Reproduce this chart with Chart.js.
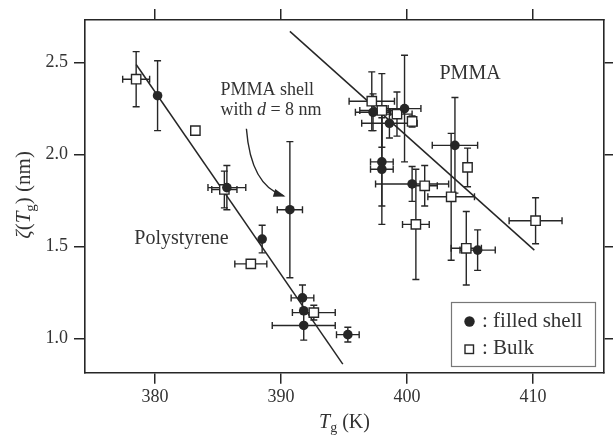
<!DOCTYPE html>
<html>
<head>
<meta charset="utf-8">
<script src="https://cdn.jsdelivr.net/npm/chart.js@4.4.0/dist/chart.umd.min.js"></script>
<style>
html, body { margin: 0; padding: 0; background: #fff; }
#wrap { width: 613px; height: 435px; }
</style>
</head>
<body>
<div id="wrap"><canvas id="chart" width="613" height="435"></canvas></div>
<script>
// tick values
const tickT = [380, 390, 400, 410];
const tickXi = [1.0, 1.5, 2.0, 2.5];

// filled shell (PS + PMMA)
const filledT = [380.2, 385.7, 390.7, 388.5, 391.7, 391.8, 391.8, 395.3,
                 397.3, 398.6, 399.8, 398.0, 398.0, 400.4, 403.8, 405.6];
const filledXi = [2.32, 1.82, 1.70, 1.54, 1.22, 1.15, 1.07, 1.02,
                  2.23, 2.17, 2.25, 1.96, 1.92, 1.84, 2.05, 1.48];
const filledTErr = [0, 1.5, 1.0, 0, 0.9, 0, 2.5, 0.9,
                    1.4, 2.2, 1.3, 0.9, 0.9, 2.9, 1.8, 1.4];
const filledXiErr = [0.19, 0.12, 0.37, 0.075, 0.07, 0, 0.08, 0.04,
                     0.1, 0.08, 0.29, 0.24, 0.30, 0.095, 0.26, 0.11];

// bulk
const bulkT = [378.5, 383.2, 385.5, 387.6, 392.6,
               397.2, 398.0, 399.2, 400.4, 401.4, 400.7, 403.5, 404.8, 404.7, 410.2];
const bulkXi = [2.41, 2.13, 1.81, 1.405, 1.14,
                2.29, 2.24, 2.22, 2.18, 1.83, 1.62, 1.77, 1.93, 1.49, 1.64];
const bulkTErr = [1.07, 0, 1.0, 1.27, 1.7,
                  1.8, 1.75, 1.2, 0, 1.0, 1.06, 1.85, 0, 1.2, 2.1];
const bulkXiErr = [0.15, 0.02, 0.1, 0, 0.04,
                   0.16, 0.2, 0.12, 0.03, 0.11, 0.3, 0.345, 0.105, 0.2, 0.125];

// fitted lines
const psFitT = [378.5, 394.9];
const psFitXi = [2.49, 0.86];
const pmmaFitT = [390.7, 410.1];
const pmmaFitXi = [2.67, 1.48];

const SERIF = "'Liberation Serif', 'DejaVu Serif', serif";
const INK = '#262626';
const TXT = '#333';

function toPoints(xs, ys) {
    return xs.map((x, i) => ({ x: x, y: ys[i] }));
}

// error bars, drawn under the markers
const errorBars = {
    id: 'errorBars',
    beforeDatasetsDraw(chart) {
        const { ctx, scales: { x, y } } = chart;
        ctx.save();
        ctx.strokeStyle = INK;
        ctx.lineWidth = 1.4;
        const cap = 3.5;
        chart.data.datasets.forEach(ds => {
            if (!ds.errT) return;
            ds.data.forEach((p, i) => {
                const px = x.getPixelForValue(p.x);
                const py = y.getPixelForValue(p.y);
                const dx = ds.errT[i], dy = ds.errXi[i];
                ctx.beginPath();
                if (dy > 0) {
                    const y1 = y.getPixelForValue(p.y + dy);
                    const y2 = y.getPixelForValue(p.y - dy);
                    ctx.moveTo(px, y1); ctx.lineTo(px, y2);
                    ctx.moveTo(px - cap, y1); ctx.lineTo(px + cap, y1);
                    ctx.moveTo(px - cap, y2); ctx.lineTo(px + cap, y2);
                }
                if (dx > 0) {
                    const x1 = x.getPixelForValue(p.x - dx);
                    const x2 = x.getPixelForValue(p.x + dx);
                    ctx.moveTo(x1, py); ctx.lineTo(x2, py);
                    ctx.moveTo(x1, py - cap); ctx.lineTo(x1, py + cap);
                    ctx.moveTo(x2, py - cap); ctx.lineTo(x2, py + cap);
                }
                ctx.stroke();
            });
        });
        ctx.restore();
    }
};

// draws a run of [text, italic, sub] pieces starting at x
function drawRuns(ctx, runs, x, y, size) {
    runs.forEach(r => {
        const fs = r[2] ? Math.round(size * 0.7) : size;
        ctx.font = (r[1] ? 'italic ' : '') + fs + 'px ' + SERIF;
        ctx.fillText(r[0], x, r[2] ? y + size * 0.22 : y);
        x += ctx.measureText(r[0]).width;
    });
    return x;
}
function runsWidth(ctx, runs, size) {
    let w = 0;
    runs.forEach(r => {
        const fs = r[2] ? Math.round(size * 0.7) : size;
        ctx.font = (r[1] ? 'italic ' : '') + fs + 'px ' + SERIF;
        w += ctx.measureText(r[0]).width;
    });
    return w;
}

const notes = {
    id: 'notes',
    afterDatasetsDraw(chart) {
        const { ctx, scales: { x, y } } = chart;
        ctx.save();
        ctx.fillStyle = TXT;
        ctx.textBaseline = 'middle';

        const label = (runs, vx, vy, size) => {
            const w = runsWidth(ctx, runs, size);
            drawRuns(ctx, runs, x.getPixelForValue(vx) - w / 2, y.getPixelForValue(vy), size);
        };
        label([['PMMA shell']], 388.9, 2.35, 18);
        label([['with '], ['d', true], [' = 8 nm']], 389.2, 2.24, 18);
        label([['Polystyrene']], 382.1, 1.54, 20);
        label([['PMMA']], 405.0, 2.44, 20);

        // curved arrow towards the PMMA shell point
        const sx = x.getPixelForValue(387.25), sy = y.getPixelForValue(2.14);
        const cx = x.getPixelForValue(387.6), cy = y.getPixelForValue(1.83);
        const ex = x.getPixelForValue(390.2), ey = y.getPixelForValue(1.775);
        ctx.strokeStyle = INK;
        ctx.lineWidth = 1.4;
        ctx.beginPath();
        ctx.moveTo(sx, sy);
        ctx.quadraticCurveTo(cx, cy, ex, ey);
        ctx.stroke();
        const ang = Math.atan2(ey - cy, ex - cx);
        const L = 10, W = 4;
        ctx.fillStyle = INK;
        ctx.beginPath();
        ctx.moveTo(ex + Math.cos(ang) * 2, ey + Math.sin(ang) * 2);
        ctx.lineTo(ex - Math.cos(ang) * L - Math.sin(ang) * W, ey - Math.sin(ang) * L + Math.cos(ang) * W);
        ctx.lineTo(ex - Math.cos(ang) * L + Math.sin(ang) * W, ey - Math.sin(ang) * L - Math.cos(ang) * W);
        ctx.closePath();
        ctx.fill();
        ctx.restore();
    },
    afterDraw(chart) {
        const { ctx, chartArea } = chart;
        ctx.save();
        ctx.fillStyle = TXT;
        ctx.textBaseline = 'alphabetic';

        // legend box
        const bx = 451.5, by = 302.5, bw = 144, bh = 64;
        ctx.fillStyle = '#fff';
        ctx.fillRect(bx, by, bw, bh);
        ctx.strokeStyle = '#777';
        ctx.lineWidth = 1.2;
        ctx.strokeRect(bx, by, bw, bh);
        ctx.fillStyle = INK;
        ctx.beginPath();
        ctx.arc(469.5, 321.5, 5.2, 0, Math.PI * 2);
        ctx.fill();
        ctx.strokeStyle = INK;
        ctx.lineWidth = 1.4;
        ctx.fillStyle = '#fff';
        ctx.fillRect(465, 345, 8.5, 8.5);
        ctx.strokeRect(465, 345, 8.5, 8.5);
        ctx.fillStyle = TXT;
        ctx.textBaseline = 'middle';
        drawRuns(ctx, [[': filled shell']], 482, 321, 21);
        drawRuns(ctx, [[': Bulk']], 482, 348, 21);

        // x axis title
        ctx.textBaseline = 'alphabetic';
        const xr = [['T', true], ['g', false, true], [' (K)']];
        const xw = runsWidth(ctx, xr, 20);
        drawRuns(ctx, xr, (chartArea.left + chartArea.right) / 2 - xw / 2, 428, 20);

        // y axis title
        const yr = [['ζ', true], ['('], ['T', true], ['g', false, true], [') (nm)']];
        const yw = runsWidth(ctx, yr, 21);
        ctx.translate(30, 195);
        ctx.rotate(-Math.PI / 2);
        drawRuns(ctx, yr, -yw / 2, 0, 21);
        ctx.restore();
    }
};

const tickFont = { family: SERIF, size: 18 };
const axisGrid = { drawOnChartArea: false, drawTicks: true, tickLength: 11, color: INK, lineWidth: 1.5 };
const axisBorder = { display: true, color: INK, width: 1.6 };

function fixedTicks(values) {
    return scale => { scale.ticks = values.map(v => ({ value: v })); };
}

new Chart(document.getElementById('chart'), {
    type: 'scatter',
    data: {
        datasets: [
            {
                label: 'filled shell',
                data: toPoints(filledT, filledXi),
                errT: filledTErr,
                errXi: filledXiErr,
                pointStyle: 'circle',
                pointRadius: 4.8,
                backgroundColor: INK,
                borderColor: INK,
                borderWidth: 0
            },
            {
                label: 'Bulk',
                data: toPoints(bulkT, bulkXi),
                errT: bulkTErr,
                errXi: bulkXiErr,
                pointStyle: 'rect',
                pointRadius: 6.6,
                backgroundColor: '#fff',
                borderColor: INK,
                borderWidth: 1.4
            },
            {
                type: 'line',
                label: 'PS fit',
                data: toPoints(psFitT, psFitXi),
                borderColor: INK,
                borderWidth: 1.5,
                pointRadius: 0,
                fill: false
            },
            {
                type: 'line',
                label: 'PMMA fit',
                data: toPoints(pmmaFitT, pmmaFitXi),
                borderColor: INK,
                borderWidth: 1.5,
                pointRadius: 0,
                fill: false
            }
        ]
    },
    options: {
        responsive: false,
        devicePixelRatio: 1,
        animation: false,
        events: [],
        layout: { padding: 0 },
        plugins: {
            legend: { display: false },
            tooltip: { enabled: false }
        },
        scales: {
            x: {
                type: 'linear',
                position: 'bottom',
                min: 374.44,
                max: 415.63,
                afterBuildTicks: fixedTicks(tickT),
                afterFit: s => { s.height = 62.3; },
                grid: axisGrid,
                border: axisBorder,
                ticks: { font: tickFont, color: TXT, padding: 3, maxRotation: 0,
                         callback: v => String(v) }
            },
            x2: {
                type: 'linear',
                position: 'top',
                min: 374.44,
                max: 415.63,
                afterBuildTicks: fixedTicks(tickT),
                afterFit: s => { s.height = 20; },
                grid: axisGrid,
                border: axisBorder,
                ticks: { display: false }
            },
            y: {
                type: 'linear',
                position: 'left',
                min: 0.813,
                max: 2.732,
                afterBuildTicks: fixedTicks(tickXi),
                afterFit: s => { s.width = 85; },
                grid: axisGrid,
                border: axisBorder,
                ticks: { font: tickFont, color: TXT, padding: 6,
                         callback: v => v.toFixed(1) }
            },
            y2: {
                type: 'linear',
                position: 'right',
                min: 0.813,
                max: 2.732,
                afterBuildTicks: fixedTicks(tickXi),
                afterFit: s => { s.width = 9; },
                grid: axisGrid,
                border: axisBorder,
                ticks: { display: false }
            }
        }
    },
    plugins: [errorBars, notes]
});
</script>
</body>
</html>
